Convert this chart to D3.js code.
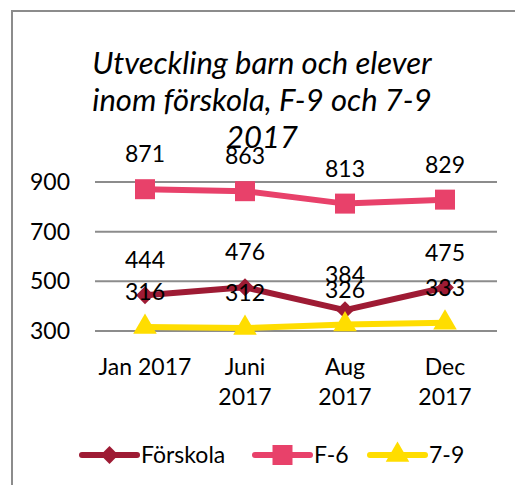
<!DOCTYPE html>
<html>
<head>
<meta charset="utf-8">
<script src="https://cdn.jsdelivr.net/npm/d3@7"></script>
<style>
  body { margin: 0; background: #fff; }
  svg { display: block; font-family: Lato, "Open Sans", sans-serif; }
</style>
</head>
<body>
<svg id="chart" width="515" height="485"></svg>
<script>
// data
var months = ["Jan 2017", "Juni 2017", "Aug 2017", "Dec 2017"];
var monthLines = [["Jan 2017"], ["Juni", "2017"], ["Aug", "2017"], ["Dec", "2017"]];
var forskola = [444, 476, 384, 475];
var f6 = [871, 863, 813, 829];
var sju9 = [316, 312, 326, 333];
var yTicks = [300, 500, 700, 900];
var titleLines = ["Utveckling barn och elever", "inom förskola, F-9 och 7-9", "2017"];

var series = [
  { name: "Förskola", values: forskola, color: "#9e1b34", symbol: d3.symbolSquare, size: 160, rot: 45 },
  { name: "F-6", values: f6, color: "#e8416a", symbol: d3.symbolSquare, size: 400, rot: 0 },
  { name: "7-9", values: sju9, color: "#ffdd00", symbol: d3.symbolTriangle, size: 240, rot: 0 }
];

var svg = d3.select("#chart");

// outer frame (cut off at right and bottom)
svg.append("path")
  .attr("d", "M12,520 L12,11 L530,11")
  .attr("fill", "none")
  .attr("stroke", "#8c8c8c")
  .attr("stroke-width", 2);

var x = d3.scalePoint()
  .domain(months)
  .range([95, 495])
  .padding(0.5);

var y = d3.scaleLinear()
  .domain([300, 900])
  .range([331, 182]);

// gridlines
svg.append("g").selectAll("line")
  .data(yTicks)
  .enter().append("line")
    .attr("x1", 95).attr("x2", 497)
    .attr("y1", function(d) { return y(d); })
    .attr("y2", function(d) { return y(d); })
    .attr("stroke", "#8c8c8c")
    .attr("stroke-width", 2);

// y labels
svg.append("g").selectAll("text")
  .data(yTicks)
  .enter().append("text")
    .attr("x", 70)
    .attr("y", function(d) { return y(d); })
    .attr("dy", "0.35em")
    .attr("text-anchor", "end")
    .style("font-size", "23px")
    .attr("fill", "#000")
    .text(function(d) { return d; });

// x labels
var xl = svg.append("g").selectAll("text")
  .data(months)
  .enter().append("text")
    .attr("text-anchor", "middle")
    .style("font-size", "23px")
    .attr("fill", "#000");
xl.each(function(d, i) {
  var t = d3.select(this);
  monthLines[i].forEach(function(s, j) {
    t.append("tspan")
      .attr("x", x(d))
      .attr("y", 375 + j * 30)
      .text(s);
  });
});

// lines + markers
var line = d3.line()
  .x(function(d, i) { return x(months[i]); })
  .y(function(d) { return y(d); });

series.forEach(function(s) {
  svg.append("path")
    .datum(s.values)
    .attr("d", line)
    .attr("fill", "none")
    .attr("stroke", s.color)
    .attr("stroke-width", 6)
    .attr("stroke-linejoin", "round");
  svg.append("g").selectAll("path")
    .data(s.values)
    .enter().append("path")
      .attr("d", d3.symbol().type(s.symbol).size(s.size))
      .attr("transform", function(d, i) { return "translate(" + x(months[i]) + "," + y(d) + ") rotate(" + s.rot + ")"; })
      .attr("fill", s.color);
});

// data labels
series.forEach(function(s) {
  svg.append("g").selectAll("text")
    .data(s.values)
    .enter().append("text")
      .attr("x", function(d, i) { return x(months[i]); })
      .attr("y", function(d) { return y(d) - 35; })
      .attr("dy", "0.35em")
      .attr("text-anchor", "middle")
      .style("font-size", "23px")
      .attr("fill", "#000")
      .text(function(d) { return d; });
});

// title
svg.append("g").selectAll("text")
  .data(titleLines)
  .enter().append("text")
    .attr("x", 262)
    .attr("y", function(d, i) { return 63 + i * 37; })
    .attr("dy", "0.35em")
    .attr("text-anchor", "middle")
    .style("font-size", "31px")
    .style("font-style", "italic")
    .attr("fill", "#000")
    .text(function(d) { return d; });

// legend
var legX = [82, 255, 370];
var leg = svg.append("g").selectAll("g")
  .data(series)
  .enter().append("g")
    .attr("transform", function(d, i) { return "translate(" + legX[i] + ",455)"; });
leg.append("line")
  .attr("x1", 0).attr("x2", 55)
  .attr("stroke", function(d) { return d.color; })
  .attr("stroke-width", 6)
  .attr("stroke-linecap", "round");
leg.append("path")
  .attr("d", function(d) { return d3.symbol().type(d.symbol).size(d.size)(); })
  .attr("transform", function(d) { return "translate(27.5,0) rotate(" + d.rot + ")"; })
  .attr("fill", function(d) { return d.color; });
leg.append("text")
  .attr("x", 59)
  .attr("dy", "0.35em")
  .style("font-size", "23px")
  .attr("fill", "#000")
  .text(function(d) { return d.name; });
</script>
</body>
</html>
